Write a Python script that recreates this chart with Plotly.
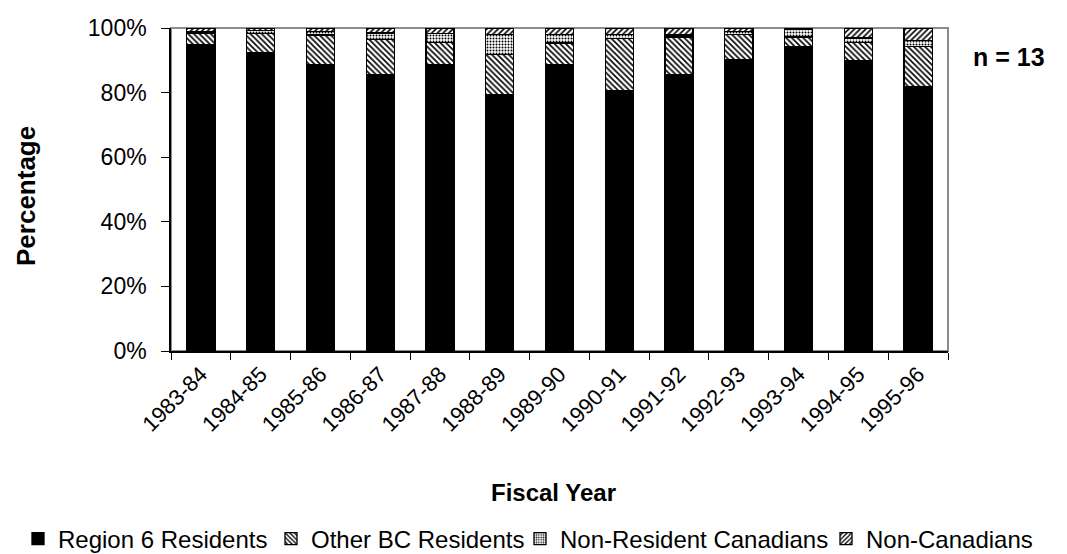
import plotly.graph_objects as go

years = ["1983-84", "1984-85", "1985-86", "1986-87", "1987-88", "1988-89", "1989-90",
         "1990-91", "1991-92", "1992-93", "1993-94", "1994-95", "1995-96"]
region6 = [95.0, 92.5, 88.8, 85.7, 88.6, 79.5, 88.6, 80.7, 85.5, 90.1, 94.3, 90.0, 81.9]
other_bc = [3.3, 5.8, 9.0, 10.8, 6.9, 12.2, 6.8, 16.0, 11.7, 7.8, 2.9, 5.6, 12.4]
non_res_can = [0.5, 1.0, 1.2, 2.0, 2.7, 6.2, 2.6, 1.3, 0.6, 1.0, 2.4, 1.3, 1.9]
non_can = [1.2, 0.7, 1.0, 1.5, 1.8, 2.1, 2.0, 2.0, 2.2, 1.1, 0.4, 3.1, 3.8]
series_names = ["Region 6 Residents", "Other BC Residents", "Non-Resident Canadians", "Non-Canadians"]

FONT = "Liberation Sans, Arial, sans-serif"
L, R, T, B = 163, 127, 20, 211
PW = 1067 - L - R
PH = 554 - T - B

patterns = [
    None,
    dict(shape="\\", size=4, solidity=0.4, fgcolor="black", bgcolor="white", fillmode="replace"),
    dict(shape=".", size=3, solidity=0.35, fgcolor="black", bgcolor="white", fillmode="replace"),
    dict(shape="/", size=4, solidity=0.4, fgcolor="black", bgcolor="white", fillmode="replace"),
]
values = [region6, other_bc, non_res_can, non_can]
legend_ids = ["legend", "legend2", "legend3", "legend4"]
text_starts = [50, 303, 552, 858]  # pixel x where each legend label should start

fig = go.Figure()
for name, vals, pat, lid in zip(series_names, values, patterns, legend_ids):
    marker = dict(color="black" if pat is None else "white",
                  line=dict(color="black", width=1.3))
    if pat is not None:
        marker["pattern"] = pat
    fig.add_trace(go.Bar(x=years, y=vals, name=name, marker=marker, legend=lid))

legend_common = dict(orientation="h", yanchor="middle", y=(T + PH - 531) / PH,
                     xanchor="left", font=dict(size=24, family=FONT, color="black"),
                     itemwidth=30, bgcolor="rgba(0,0,0,0)", borderwidth=0)
legend_layouts = {}
for lid, tx in zip(legend_ids, text_starts):
    legend_layouts[lid] = dict(legend_common, x=(tx - 40 - L) / PW)

fig.update_layout(
    barmode="stack",
    bargap=0.53,
    width=1067, height=554,
    margin=dict(l=L, r=R, t=T, b=B, autoexpand=False),
    paper_bgcolor="white", plot_bgcolor="white",
    font=dict(family=FONT, color="black", size=22),
    showlegend=True,
    shapes=[dict(type="rect", xref="paper", yref="paper", x0=0, x1=1, y0=0, y1=1,
                 line=dict(color="#8c8c8c", width=2), layer="below")],
    annotations=[
        dict(text="<b>Fiscal Year</b>", xref="paper", yref="paper", x=(545 - L) / PW,
             y=(T + PH - 484) / PH, showarrow=False, font=dict(size=24, family=FONT),
             xanchor="center", yanchor="middle"),
        dict(text="<b>Percentage</b>", xref="paper", yref="paper", x=(18 - L) / PW,
             y=(T + PH - 188) / PH, showarrow=False, textangle=-90,
             font=dict(size=26, family=FONT), xanchor="center", yanchor="middle"),
        dict(text="<b>n = 13</b>", xref="paper", yref="paper", x=(1001 - L) / PW,
             y=(T + PH - 49) / PH, showarrow=False, font=dict(size=25, family=FONT),
             xanchor="center", yanchor="middle"),
    ],
    **legend_layouts,
)
fig.update_xaxes(type="category", showline=True, linecolor="black", linewidth=1.5,
                 ticks="outside", tickson="boundaries", ticklen=7, tickcolor="black",
                 tickangle=-45, tickfont=dict(size=22, family=FONT), showgrid=False,
                 automargin=False)
fig.update_yaxes(range=[0, 100], dtick=20, ticksuffix="%", showline=True, linecolor="black",
                 linewidth=1.5, ticks="outside", ticklen=8, tickcolor="black",
                 tickfont=dict(size=23, family=FONT), showgrid=False, zeroline=False,
                 ticklabelstandoff=10, automargin=False)

fig.write_html("out.html")
